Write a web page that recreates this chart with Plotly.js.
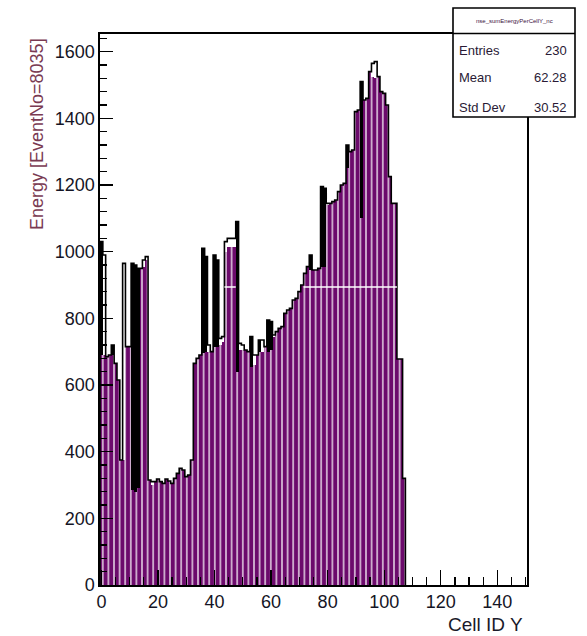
<!DOCTYPE html>
<html>
<head>
<meta charset="utf-8">
<script src="https://cdn.plot.ly/plotly-3.0.1.min.js"></script>
<style>
  html, body { margin: 0; padding: 0; background: #fff; }
  #chart { width: 587px; height: 636px; }
</style>
</head>
<body>
<div id="chart"></div>
<script>
// Cell ID Y bins 0..107 (bin width 1)
const purpleEnergy = [
  690, 690, 685, 690, 690, 665, 615, 375, 375, 715,
  715, 285, 280, 290, 950, 955, 975, 315, 300, 310,
  318, 310, 305, 318, 312, 305, 320, 335, 350, 345,
  325, 330, 375, 665, 680, 690, 695, 700, 700, 700,
  715, 715, 720, 730, 1000, 1015, 1015, 1015, 640, 705,
  705, 705, 700, 655, 660, 690, 700, 700, 715, 700,
  705, 745, 760, 770, 775, 815, 825, 830, 855, 860,
  880, 900, 935, 955, 945, 945, 945, 950, 955, 955,
  1140, 1145, 1150, 1155, 1180, 1200, 1205, 1250, 1300, 1305,
  1420, 1425, 1100, 1455, 1460, 1540, 1525, 1520, 1525, 1480,
  1475, 1440, 1225, 1145, 1145, 678, 678, 320
];
const blackEnergy = [
  1030, 0, 0, 0, 720, 0, 0, 0, 0, 0,
  0, 965, 960, 950, 0, 0, 0, 0, 0, 0,
  0, 0, 0, 0, 0, 0, 0, 0, 0, 0,
  0, 0, 0, 0, 0, 0, 1010, 985, 0, 0,
  990, 975, 0, 0, 0, 0, 0, 0, 1090, 0,
  0, 0, 0, 745, 0, 0, 735, 0, 0, 795,
  790, 0, 0, 0, 0, 0, 0, 0, 0, 0,
  0, 0, 0, 0, 990, 0, 0, 0, 1195, 1190,
  0, 0, 0, 0, 0, 0, 0, 1320, 0, 0,
  0, 0, 1510, 0, 0, 0, 0, 0, 0, 0,
  0, 0, 0, 0, 0, 0, 0, 0
];
const outlineEnergy = [
  1030, 990, 685, 690, 720, 665, 615, 375, 965, 715,
  715, 965, 960, 950, 950, 975, 985, 315, 310, 310,
  318, 310, 305, 318, 312, 305, 320, 335, 350, 345,
  325, 330, 375, 665, 680, 690, 1010, 985, 720, 700,
  990, 975, 740, 745, 1030, 1040, 1040, 1040, 1090, 725,
  720, 705, 700, 745, 690, 690, 735, 735, 715, 795,
  790, 750, 760, 770, 775, 815, 825, 830, 855, 860,
  880, 900, 935, 955, 990, 945, 945, 950, 1195, 1190,
  1145, 1145, 1150, 1155, 1180, 1200, 1205, 1320, 1300, 1305,
  1420, 1425, 1510, 1455, 1460, 1540, 1565, 1570, 1525, 1480,
  1475, 1440, 1225, 1145, 1145, 678, 678, 320
];
const cellY = purpleEnergy.map((_, i) => i);

const statsLabels = ["Entries", "Mean", "Std Dev"];
const statsValues = ["230", "62.28", "30.52"];
const statsTitle = "nse_sumEnergyPerCellY_nc";
const xTitle = "Cell ID Y";
const yTitle = "Energy [EventNo=8035]";

const purple = "#6c0a6c";

// outline step path built from bin edges
const edgeX = [-0.5].concat(cellY.map(k => k - 0.5), [cellY.length - 0.5]);
const edgeY = [0].concat(outlineEnergy, [0]);

const traces = [
  {
    type: "bar", x: cellY, y: blackEnergy, width: 1,
    marker: { color: "#000", line: { width: 0 } },
    hoverinfo: "skip", showlegend: false
  },
  {
    type: "bar", x: cellY, y: purpleEnergy, width: 1,
    marker: {
      color: purple, line: { width: 0 },
      pattern: { shape: "|", fillmode: "overlay", fgcolor: "#ffffff", fgopacity: 1, size: 5.6, solidity: 0.22 }
    },
    hoverinfo: "skip", showlegend: false
  },
  {
    type: "scatter", mode: "lines", x: edgeX, y: edgeY,
    line: { color: "#000", width: 1.6, shape: "hv" },
    hoverinfo: "skip", showlegend: false
  }
];

const fontFam = "Liberation Sans, Arial, Helvetica, sans-serif";
const L = 100, R = 527, T = 34, B = 585;
const W = 587, H = 636;
const px2x = p => (p - L) / (R - L);
const px2y = p => (B - p) / (B - T);

const annotations = [
  { xref: "paper", yref: "paper", x: px2x(525), y: px2y(612), xanchor: "right", yanchor: "top",
    text: xTitle, showarrow: false, font: { family: fontFam, size: 19, color: "#1a1a2a" } },
  { xref: "paper", yref: "paper", x: px2x(37), y: px2y(36), xanchor: "center", yanchor: "top",
    text: yTitle, textangle: -90, showarrow: false, font: { family: fontFam, size: 18, color: "#7a3a52" } },
  { xref: "paper", yref: "paper", x: px2x(514), y: px2y(20.5), xanchor: "center", yanchor: "middle",
    text: statsTitle, showarrow: false, font: { family: fontFam, size: 6, color: "#3a1040" } }
];
const rowY = [50, 78, 107];
statsLabels.forEach((lab, i) => {
  annotations.push({ xref: "paper", yref: "paper", x: px2x(457), y: px2y(rowY[i]), xanchor: "left", yanchor: "middle",
    text: lab, showarrow: false, font: { family: fontFam, size: 13, color: "#2a1a35" } });
  annotations.push({ xref: "paper", yref: "paper", x: px2x(569), y: px2y(rowY[i]), xanchor: "right", yanchor: "middle",
    text: statsValues[i], showarrow: false, font: { family: fontFam, size: 13, color: "#2a1a35" } });
});

const shapes = [
  { type: "rect", xref: "paper", yref: "paper", x0: px2x(453), x1: px2x(575), y0: px2y(117), y1: px2y(8),
    line: { color: "#000", width: 1.6 }, fillcolor: "#fff", layer: "above" },
  { type: "line", xref: "paper", yref: "paper", x0: px2x(453), x1: px2x(575), y0: px2y(33.5), y1: px2y(33.5),
    line: { color: "#000", width: 1.6 }, layer: "above" },
  { type: "line", xref: "x", yref: "y", x0: 43.5, x1: 47.5, y0: 894, y1: 894,
    line: { color: "#fff", width: 1.5 }, layer: "above" },
  { type: "line", xref: "x", yref: "y", x0: 71.5, x1: 104.5, y0: 894, y1: 894,
    line: { color: "#fff", width: 1.5 }, layer: "above" }
];

const layout = {
  width: W, height: H,
  margin: { l: L, r: W - R, t: T, b: H - B, pad: 0 },
  paper_bgcolor: "#fff", plot_bgcolor: "#fff",
  barmode: "overlay", bargap: 0,
  showlegend: false,
  xaxis: {
    range: [-0.5, 150.5], tickmode: "linear", tick0: 0, dtick: 20,
    ticks: "inside", ticklen: 15, tickwidth: 1.3, tickcolor: "#000",
    minor: { dtick: 5, tick0: 0, ticks: "inside", ticklen: 8, tickwidth: 1.3, tickcolor: "#000" },
    showgrid: false, zeroline: false, showline: true, linecolor: "#000", linewidth: 1.6, mirror: true,
    tickfont: { family: fontFam, size: 18, color: "#151525" }
  },
  yaxis: {
    range: [0, 1653], tickmode: "linear", tick0: 0, dtick: 200,
    ticks: "inside", ticklen: 13, tickwidth: 1.3, tickcolor: "#000",
    minor: { dtick: 40, tick0: 0, ticks: "inside", ticklen: 7, tickwidth: 1.3, tickcolor: "#000" },
    showgrid: false, zeroline: false, showline: true, linecolor: "#000", linewidth: 1.6, mirror: true,
    tickfont: { family: fontFam, size: 18, color: "#151525" }
  },
  annotations: annotations,
  shapes: shapes
};

Plotly.newPlot("chart", traces, layout, { displayModeBar: false, staticPlot: true });
</script>
</body>
</html>
